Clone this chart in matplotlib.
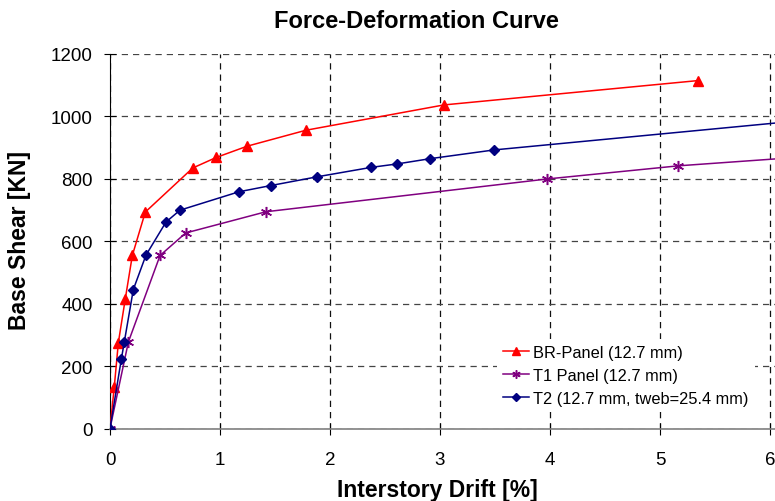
import matplotlib
matplotlib.use("Agg")
import matplotlib.pyplot as plt

plt.rcParams['font.family'] = ['Liberation Sans', 'DejaVu Sans']

br_x = [0, 0.039, 0.076, 0.139, 0.203, 0.321, 0.752, 0.967, 1.248, 1.782, 3.036, 5.348]
br_y = [0, 134, 275, 415, 554, 693, 834, 868, 904, 955, 1036, 1114]

t1_x = [0, 0.167, 0.455, 0.688, 1.418, 3.976, 5.167, 7.0]
t1_y = [0, 277, 554, 626, 694, 799, 841, 887]

t2_x = [0, 0.103, 0.130, 0.212, 0.327, 0.509, 0.636, 1.173, 1.464, 1.885, 2.373, 2.609, 2.912, 3.494, 7.0]
t2_y = [0, 222, 277, 445, 555, 661, 699, 758, 778, 806, 836, 847, 864, 892, 1010]

labels = ['BR-Panel (12.7 mm)', 'T1 Panel (12.7 mm)', 'T2 (12.7 mm, tweb=25.4 mm)']
x_ticks = [0, 1, 2, 3, 4, 5, 6]
y_ticks = [0, 200, 400, 600, 800, 1000, 1200]

W, H = 775, 502
fig = plt.figure(figsize=(W/100, H/100), dpi=100)
ax = fig.add_axes([110/W, 72.5/H, (W-110)/W, (447.3-72.5)/H])

ax.plot(br_x, br_y, color='#FF0000', lw=1.1, marker='^', ms=7.5, label=labels[0], zorder=3)
ax.plot(t1_x, t1_y, color='#800080', lw=1.1, marker=(6, 2, 0), ms=8, mew=1.1, label=labels[1], zorder=3)
ax.plot(t2_x, t2_y, color='#000080', lw=1.1, marker='D', ms=5, label=labels[2], zorder=3)

ax.set_xlim(0, (W-110)/110)
ax.set_ylim(0, 1200)
ax.set_xticks(x_ticks)
ax.set_yticks(y_ticks)
ax.tick_params(axis='both', labelsize=13.5, direction='inout', length=9, width=0.8, colors='black')
ax.tick_params(axis='x', pad=12)
ax.tick_params(axis='y', pad=8)

ax.xaxis.grid(True, color='#111111', linestyle=(0, (5, 4)), linewidth=0.9)
ax.yaxis.grid(True, color='#444444', linestyle=(0, (5, 4)), linewidth=0.9)
ax.set_axisbelow(True)
for s in ['top', 'right']:
    ax.spines[s].set_visible(False)
ax.spines['left'].set_color('black')
ax.spines['bottom'].set_color('#808080')
ax.spines['bottom'].set_linewidth(1.2)

fig.text(416/W, 1-28.3/H, 'Force-Deformation Curve', ha='center', va='baseline', fontsize=17, fontweight='bold')
fig.text(437/W, 1-496.7/H, 'Interstory Drift [%]', ha='center', va='baseline', fontsize=16.5, fontweight='bold')
fig.text(20/W, 1-241/H, 'Base Shear [KN]', ha='center', va='center', fontsize=16.5, fontweight='bold', rotation=90)

leg = ax.legend(loc='upper left', bbox_to_anchor=(497/W, 1-340/H), bbox_transform=fig.transFigure,
                frameon=True, fontsize=11.8, borderpad=0.37, borderaxespad=0, handlelength=1.6,
                handletextpad=0.25, labelspacing=0.48, markerscale=0.75, fancybox=False)
leg.get_frame().set_facecolor('white')
leg.get_frame().set_edgecolor('none')
leg.get_frame().set_alpha(1)

fig.savefig('out.png', dpi=100)
